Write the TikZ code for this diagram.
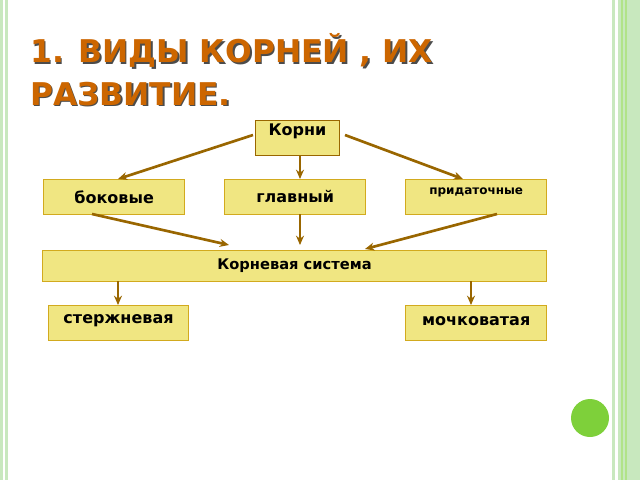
\documentclass[tikz,border=0pt]{standalone}
\usepackage{fontspec}
\setmainfont{DejaVu Sans}
\usetikzlibrary{arrows.meta}
\definecolor{titlebrown}{RGB}{204,102,0}
\definecolor{arrowbrown}{RGB}{153,102,0}
\definecolor{boxfill}{RGB}{240,230,130}
\definecolor{boxline}{RGB}{210,170,30}
\definecolor{stripe}{RGB}{200,232,190}
\definecolor{ballgreen}{RGB}{126,208,58}
\tikzset{
  rootbox/.style = {draw=boxline, fill=boxfill, thick, inner sep=0pt, anchor=north west},
  boxtext/.style = {font=\bfseries\fontsize{12}{14}\selectfont},
  rootarrow/.style = {-{Stealth[length=7pt,width=6pt]}, arrowbrown, line width=2pt},
}
\begin{document}
\begin{tikzpicture}[x=0.75pt,y=-0.75pt]
  \useasboundingbox (0,0) rectangle (640,480);
  % slide frame
  \fill[stripe] (0,0) rectangle (3,480);
  \fill[stripe] (5,0) rectangle (8,480);
  \fill[stripe] (612,0) rectangle (615,480);
  \fill[stripe] (618,0) rectangle (640,480);
  \draw[ballgreen!60, line width=0.8pt] (622,0) -- (622,480) (626,0) -- (626,480);
  \fill[ballgreen] (590,418) circle (19);
  % title
  \foreach \dx/\col in {1.5/black!70, 0/titlebrown}
  {
    \node[anchor=south west, inner sep=0pt, text=\col, font=\bfseries\fontsize{23.5}{26}\selectfont]
      (t1) at (30+\dx,68+\dx) {1. ВИДЫ КОРНЕЙ , ИХ};
    \node[anchor=south west, inner sep=0pt, text=\col, font=\bfseries\fontsize{23.5}{26}\selectfont]
      (t2) at (30+\dx,106+\dx) {РАЗВИТИЕ.};
  }
  % boxes
  \node[rootbox, draw=arrowbrown, minimum width=63pt, minimum height=26pt] (korni) at (255,120) {};
  \node at ([yshift=5pt]korni.center) [boxtext] {Корни};
  \node[rootbox, minimum width=106pt, minimum height=26pt] (bok) at (43,179) {};
  \node at (bok.center) [boxtext] {боковые};
  \node[rootbox, minimum width=106pt, minimum height=26pt] (glav) at (224,179) {};
  \node at (glav.center) [boxtext] {главный};
  \node[rootbox, minimum width=106pt, minimum height=26pt] (prid) at (405,179) {};
  \node at ([yshift=3pt]prid.center) [font=\bfseries\fontsize{9}{11}\selectfont] {придаточные};
  \node[rootbox, minimum width=378pt, minimum height=23pt] (sys) at (42,250) {};
  \node at (sys.center) [font=\bfseries\fontsize{11}{13}\selectfont] {Корневая система};
  \node[rootbox, minimum width=105pt, minimum height=26pt] (sterzh) at (48,305) {};
  \node at ([yshift=1.5pt]sterzh.center) [boxtext] {стержневая};
  \node[rootbox, minimum width=106pt, minimum height=26pt] (moch) at (405,305) {};
  \node at ([yshift=1.5pt]moch.center) [boxtext] {мочковатая};
  % arrow ends
  \coordinate (kl) at (253,135);
  \coordinate (kr) at (345,135);
  \coordinate (km) at (300,155);
  \coordinate (bokin) at (118,179);
  \coordinate (glavin) at (300,179);
  \coordinate (pridin) at (463,179);
  \coordinate (bokout) at (92,214);
  \coordinate (glavout) at (300,214);
  \coordinate (pridout) at (497,214);
  \coordinate (sysl) at (229,245);
  \coordinate (sysm) at (300,245);
  \coordinate (sysr) at (365,249);
  \coordinate (sysdl) at (118,281);
  \coordinate (sysdr) at (471,281);
  \coordinate (sterzhin) at (118,305);
  \coordinate (mochin) at (471,305);
  % arrows
  \draw[rootarrow] (kl) -- (bokin);
  \draw[rootarrow] (km) -- (glavin);
  \draw[rootarrow] (kr) -- (pridin);
  \draw[rootarrow] (bokout) -- (sysl);
  \draw[rootarrow] (glavout) -- (sysm);
  \draw[rootarrow] (pridout) -- (sysr);
  \draw[rootarrow] (sysdl) -- (sterzhin);
  \draw[rootarrow] (sysdr) -- (mochin);
\end{tikzpicture}
\end{document}
